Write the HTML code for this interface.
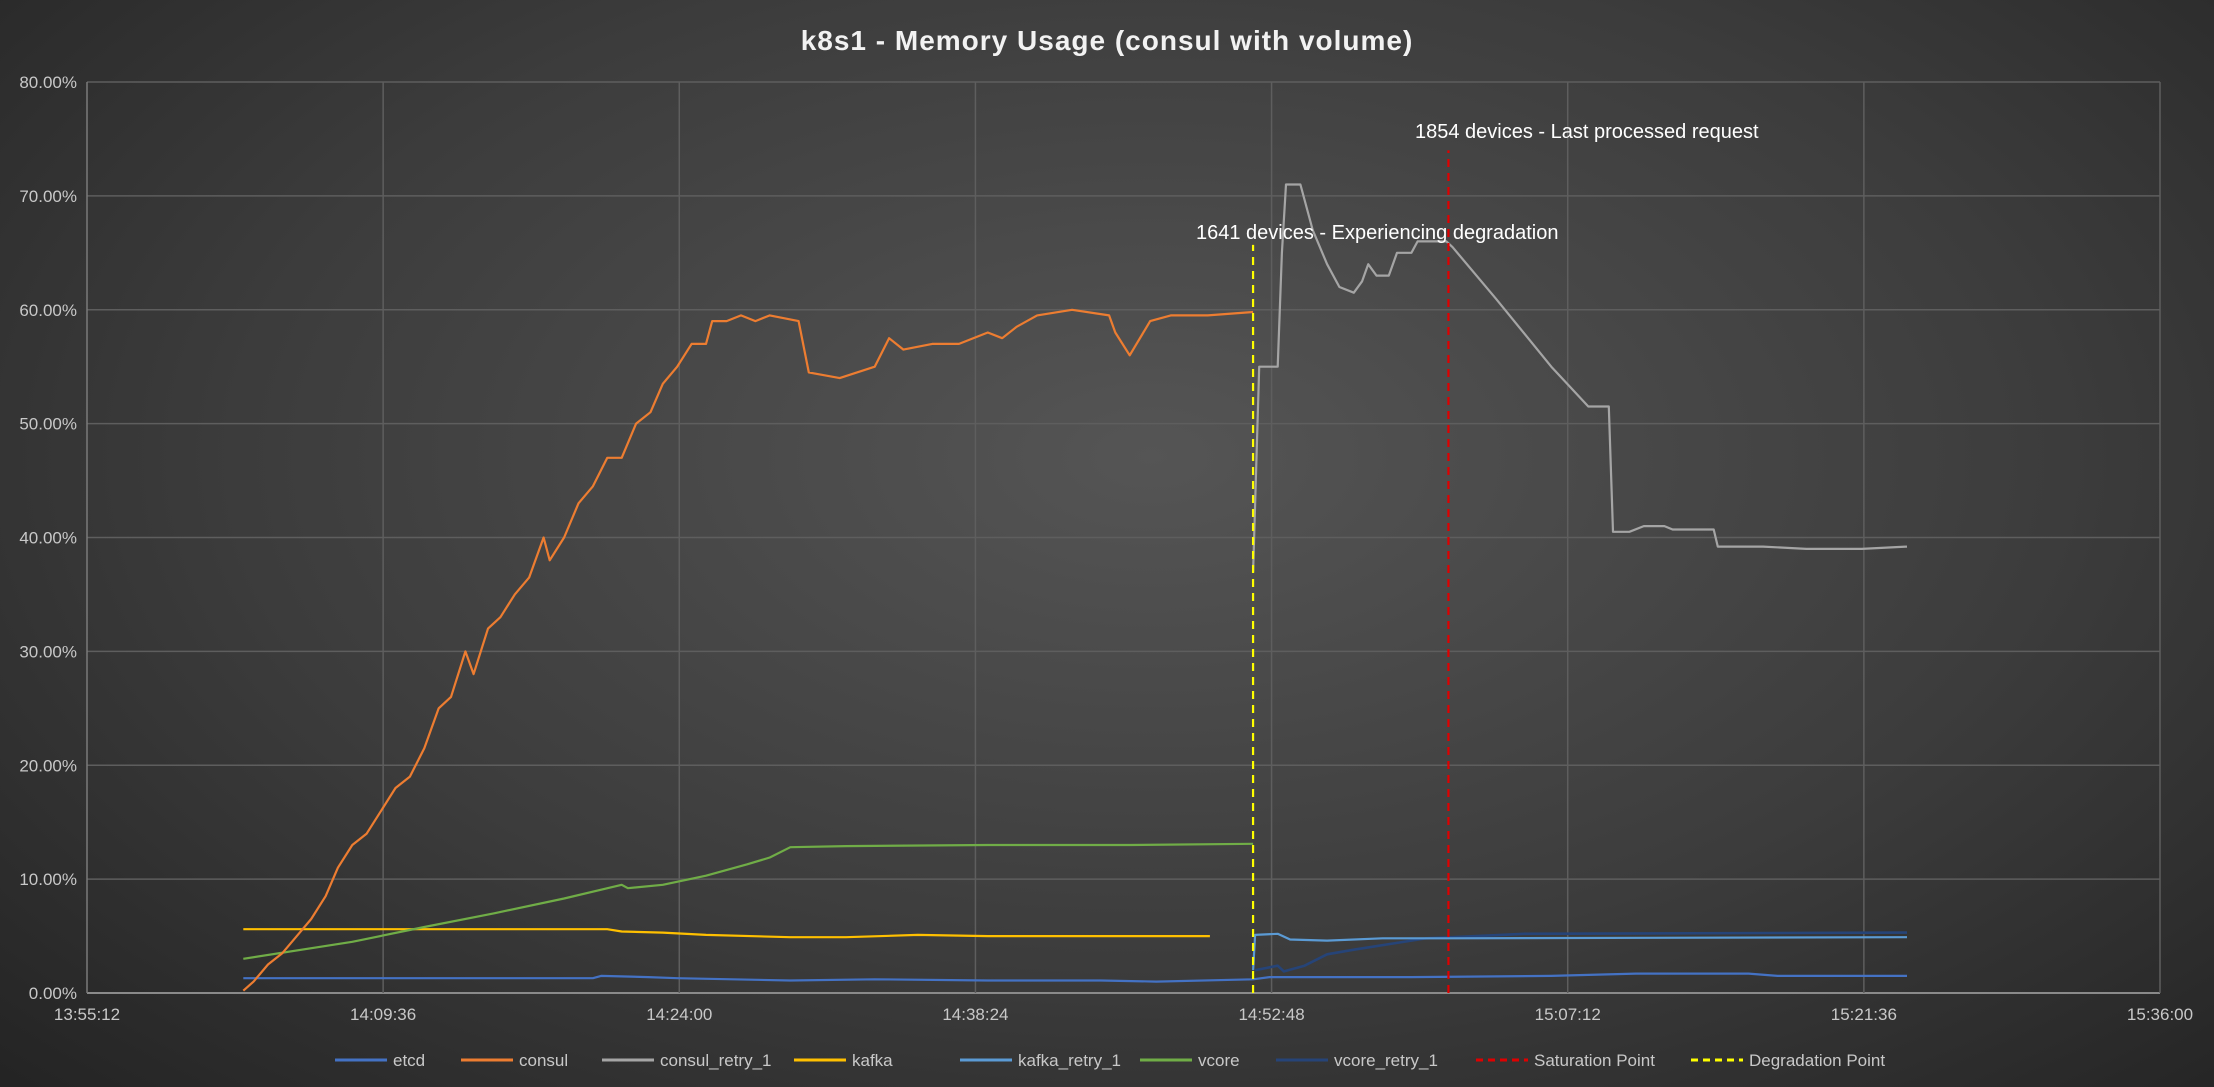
<!DOCTYPE html>
<html><head><meta charset="utf-8"><style>
html,body{margin:0;padding:0;}
body{width:2214px;height:1087px;overflow:hidden;background:radial-gradient(ellipse 75% 85% at 52% 42%,#555 0%,#3c3c3c 55%,#222 100%);font-family:"Liberation Sans",sans-serif;}
svg{position:absolute;left:0;top:0;}
</style></head><body>
<svg id="chart" width="2214" height="1087"></svg>
<script>
const times_etcd=[7.6,24.6,25.0,27.3,28.7,34.2,38.3,43.8,49.3,52.0,56.7,57.5,64.4,71.2,75.3,80.8,82.2,88.5];
const vals_etcd=[1.3,1.3,1.5,1.4,1.3,1.1,1.2,1.1,1.1,1.0,1.2,1.4,1.4,1.5,1.7,1.7,1.5,1.5];
const times_consul=[7.6,8.1,8.8,9.5,10.2,10.9,11.6,12.2,12.9,13.6,14.3,15.0,15.7,16.4,17.1,17.7,18.4,18.8,19.5,20.1,20.8,21.5,22.2,22.5,23.2,23.9,24.6,25.3,26.0,26.7,27.4,28.0,28.7,29.4,30.1,30.4,31.1,31.8,32.5,33.2,34.6,35.1,36.6,38.3,39.0,39.7,41.1,42.4,43.8,44.5,45.2,46.2,47.9,49.7,50.0,50.7,51.7,52.7,54.5,56.7];
const vals_consul=[0.2,1,2.5,3.5,5,6.5,8.5,11,13,14,16,18,19,21.5,25,26,30,28,32,33,35,36.5,40,38,40,43,44.5,47,47,50,51,53.5,55,57,57,59,59,59.5,59,59.5,59,54.5,54,55,57.5,56.5,57,57,58,57.5,58.5,59.5,60,59.5,58,56,59,59.5,59.5,59.8];
const times_consul_retry=[56.7,57.0,57.9,58.1,58.3,58.7,59.0,59.6,60.3,60.9,61.6,62.0,62.3,62.7,63.3,63.7,64.0,64.4,64.7,66.1,66.4,68.5,71.2,73.0,73.3,74.0,74.2,75.0,75.7,76.7,77.1,79.1,79.3,81.5,83.6,86.3,88.5];
const vals_consul_retry=[37,55,55,65,71,71,71,67,64,62,61.5,62.5,64,63,63,65,65,65,66,66,65.5,61,55,51.5,51.5,51.5,40.5,40.5,41,41,40.7,40.7,39.2,39.2,39,39,39.2];
const times_kafka=[7.6,25.3,26.0,28.0,30.1,34.2,36.9,40.4,43.8,50.7,54.6];
const vals_kafka=[5.6,5.6,5.4,5.3,5.1,4.9,4.9,5.1,5.0,5.0,5.0];
const times_kafka_retry=[56.7,56.8,57.9,58.5,60.3,63.0,66.2,88.5];
const vals_kafka_retry=[2.0,5.1,5.2,4.7,4.6,4.8,4.8,4.9];
const times_vcore=[7.6,12.9,16.4,19.8,23.2,26.0,26.3,28.0,30.1,32.1,33.2,34.2,36.9,43.8,50.7,56.7];
const vals_vcore=[3.0,4.5,5.8,7.0,8.3,9.5,9.2,9.5,10.3,11.3,11.9,12.8,12.9,13.0,13.0,13.1];
const times_vcore_retry=[56.8,57.9,58.2,59.2,60.3,61.6,63.7,65.1,66.4,69.9,88.5];
const vals_vcore_retry=[2.0,2.4,1.9,2.4,3.4,3.8,4.4,4.8,4.9,5.2,5.3];
const yTicks=[0,10,20,30,40,50,60,70,80];
const xTicks=[0,14.4,28.8,43.2,57.6,72,86.4,100.8];
const xTickLabels=["13:55:12","14:09:36","14:24:00","14:38:24","14:52:48","15:07:12","15:21:36","15:36:00"];
const degradationT=56.7, degradationTop=65.7;
const saturationT=66.2, saturationTop=74;

const L=87,R=2160,T=82,B=993;
const X=t=>L+t*(R-L)/100.8;
const Y=v=>B-v*(B-T)/80;
const svg=document.getElementById('chart');
const NS='http://www.w3.org/2000/svg';
function mk(tag,at){const e=document.createElementNS(NS,tag);for(const k in at)e.setAttribute(k,at[k]);svg.appendChild(e);return e;}

const title=mk('text',{x:1107,y:50,'text-anchor':'middle','font-size':28,'font-weight':'bold',fill:'#f2f2f2','letter-spacing':'1'});
title.textContent='k8s1 - Memory Usage (consul with volume)';



yTicks.forEach(v=>{
  const g=mk('line',{x1:L,x2:R,y1:Y(v),y2:Y(v),stroke:v===0?'#8a8a8a':'#5e5e5e','stroke-width':v===0?2:1.5});
  
  
  const t=mk('text',{x:L-10,y:Y(v)+6,'text-anchor':'end','font-size':17,fill:'#c8c8c8'});
  t.textContent=v.toFixed(2)+'%';
  
  
});
xTicks.forEach((tv,i)=>{
  const g=mk('line',{x1:X(tv),x2:X(tv),y1:T,y2:B,stroke:i===0?'#7a7a7a':'#5e5e5e','stroke-width':1.5});
  
  
  const t=mk('text',{x:X(tv),y:1020,'text-anchor':'middle','font-size':17,fill:'#c8c8c8'});
  t.textContent=xTickLabels[i];
  
  
});

function series(ts,vs,color,name,w){
  const d=ts.map((t,i)=>(i?'L':'M')+X(t).toFixed(1)+','+Y(vs[i]).toFixed(1)).join(' ');
  const p=mk('path',{d:d,fill:'none',stroke:color,'stroke-width':w||2.2,'stroke-linejoin':'round'});
  
  
}
series(times_etcd,vals_etcd,'#4472c4','etcd-line');
series(times_kafka,vals_kafka,'#ffc000','kafka-line');
series(times_vcore,vals_vcore,'#70ad47','vcore-line');
series(times_vcore_retry,vals_vcore_retry,'#264478','vcore-retry-1-line',2.6);
series(times_kafka_retry,vals_kafka_retry,'#5b9bd5','kafka-retry-1-line');
series(times_consul_retry,vals_consul_retry,'#a5a5a5','consul-retry-1-line');
series(times_consul,vals_consul,'#ed7d31','consul-line');

const dl=mk('line',{x1:X(degradationT),x2:X(degradationT),y1:B,y2:Y(degradationTop),stroke:'#ffff00','stroke-width':2.2,'stroke-dasharray':'8,6'});


const sl=mk('line',{x1:X(saturationT),x2:X(saturationT),y1:B,y2:Y(saturationTop),stroke:'#e00000','stroke-width':2.2,'stroke-dasharray':'8,6'});


const a1=mk('text',{x:1196,y:239,'font-size':20,fill:'#ffffff'});
a1.textContent='1641 devices - Experiencing degradation';


const a2=mk('text',{x:1415,y:138,'font-size':20,fill:'#ffffff'});
a2.textContent='1854 devices - Last processed request';



const legendNames=['etcd','consul','consul_retry_1','kafka','kafka_retry_1','vcore','vcore_retry_1','Saturation Point','Degradation Point'];
const legendColors=['#4472c4','#ed7d31','#a5a5a5','#ffc000','#5b9bd5','#70ad47','#264478','#e00000','#ffff00'];
const legendX=[335,461,602,794,960,1140,1276,1476,1691];
legendNames.forEach((n,i)=>{
  const g=document.createElementNS(NS,'g');svg.appendChild(g);
  
  
  const dashed=i>=7;
  const ln=document.createElementNS(NS,'line');
  ln.setAttribute('x1',legendX[i]);ln.setAttribute('x2',legendX[i]+52);
  ln.setAttribute('y1',1060);ln.setAttribute('y2',1060);
  ln.setAttribute('stroke',legendColors[i]);ln.setAttribute('stroke-width',3);
  if(dashed)ln.setAttribute('stroke-dasharray','7,5');
  g.appendChild(ln);
  const tx=document.createElementNS(NS,'text');
  tx.setAttribute('x',legendX[i]+58);tx.setAttribute('y',1066);
  tx.setAttribute('font-size',17);tx.setAttribute('fill','#c8c8c8');
  tx.textContent=n;
  g.appendChild(tx);
});
</script>
</body></html>
